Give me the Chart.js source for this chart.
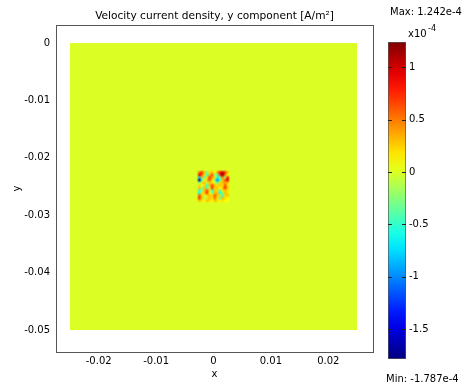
<!DOCTYPE html>
<html>
<head>
<meta charset="utf-8">
<script src="https://cdn.jsdelivr.net/npm/chart.js@4.4.1/dist/chart.umd.min.js"></script>
<style>
  html, body { margin: 0; padding: 0; background: #fff; }
  #wrap { position: relative; width: 471px; height: 388px; }
  #plot { position: absolute; left: 0; top: 0; }
  #cbar { position: absolute; left: 380px; top: 0; }
</style>
</head>
<body>
<div id="wrap">
  <canvas id="plot" width="471" height="388"></canvas>
  <canvas id="cbar" width="91" height="388"></canvas>
</div>
<script>
// Data Definitions
const xTicks = [-0.02, -0.01, 0, 0.01, 0.02];
const yTicks = [0, -0.01, -0.02, -0.03, -0.04, -0.05];
const colorTicks = [1, 0.5, 0, -0.5, -1, -1.5];

// value range (units of 1e-4 A/m^2)
const valueMin = -1.787;
const valueMax = 1.242;

// simulation domain, almost everywhere ~0
const domainX = [-0.025, 0.025];
const domainY = [-0.05, 0];
const backgroundValue = 0;

// small noisy patch near the centre, rows from top to bottom
const patchX = [-0.0027, 0.0027];
const patchY = [-0.0277, -0.0223];
const patchValues = [
    [0.5, 0.7, 0.3, -0.3, 0.2, 0.3, 0.1, 0.4, 0.8, 1.0, 0.7, 0.3],
    [0.9, 0.6, 0.2, -0.5, 0.3, 0.6, -0.2, -0.4, 0.7, 1.242, 0.5, 0.1],
    [-0.8, 0.3, -0.4, 0.2, 0.7, 0.4, 0.2, -0.6, -0.3, 0.5, -0.2, 0.8],
    [-1.787, -0.5, 0.1, 0.3, 0.6, 0.2, -0.3, -1.0, -0.5, 0.3, 0.6, 0.9],
    [-0.3, 0.2, 0.3, -0.1, 0.3, 0.2, 0.0, -0.4, 0.2, 0.3, 0.4, 0.3],
    [0.2, 0.0, 0.2, -0.5, 0.3, 0.6, 0.3, 0.2, 0.3, 0.2, 0.6, 0.2],
    [0.3, -0.2, 0.3, -0.4, 0.2, 0.7, 0.2, 0.3, 0.1, 0.3, 0.7, 0.3],
    [-0.5, -0.3, 0.3, 0.6, 0.2, -0.5, 0.3, 0.2, -0.4, 0.2, 0.3, 0.2],
    [-0.6, 0.2, 0.3, 0.7, 0.1, -0.3, 0.3, 0.3, -0.6, -0.2, 0.3, 0.2],
    [0.6, 0.3, 0.0, 0.2, 0.3, 0.2, 0.6, 0.3, 0.2, -0.5, 0.2, 0.3],
    [0.7, 0.3, -0.2, 0.2, 0.3, 0.2, 0.5, 0.2, -0.4, 0.3, 0.2, 0.1],
    [0.3, 0.2, 0.1, 0.3, 0.2, 0.1, 0.3, 0.2, 0.1, 0.2, 0.1, 0.1]
];

const titleText = 'Velocity current density, y component [A/m\u00B2]';
const maxText = 'Max: 1.242e-4';
const minText = 'Min: -1.787e-4';

const FONT = 'DejaVu Sans';

// jet colormap
function clamp01(v) { return Math.max(0, Math.min(1, v)); }
function jet(v) {
    const t = clamp01((v - valueMin) / (valueMax - valueMin));
    const r = clamp01(Math.min(4 * t - 1.5, -4 * t + 4.5));
    const g = clamp01(Math.min(4 * t - 0.5, -4 * t + 3.5));
    const b = clamp01(Math.min(4 * t + 0.5, -4 * t + 2.5));
    return [Math.round(r * 255), Math.round(g * 255), Math.round(b * 255)];
}
function jetCss(v) {
    const c = jet(v);
    return 'rgb(' + c[0] + ',' + c[1] + ',' + c[2] + ')';
}

// Surface plugin: paints the field through the chart scales
const surfacePlugin = {
    id: 'surface',
    beforeDatasetsDraw(chart) {
        const { ctx, scales: { x, y } } = chart;
        ctx.save();
        // background field
        const x0 = x.getPixelForValue(domainX[0]);
        const x1 = x.getPixelForValue(domainX[1]);
        const y0 = y.getPixelForValue(domainY[1]);
        const y1 = y.getPixelForValue(domainY[0]);
        ctx.fillStyle = jetCss(backgroundValue);
        ctx.fillRect(x0, y0, x1 - x0, y1 - y0);

        // patch as a small image (with a ring of background cells), smoothed
        const rows = patchValues.length;
        const cols = patchValues[0].length;
        const off = document.createElement('canvas');
        off.width = cols + 2;
        off.height = rows + 2;
        const octx = off.getContext('2d');
        const img = octx.createImageData(cols + 2, rows + 2);
        for (let r = 0; r < rows + 2; r++) {
            for (let c = 0; c < cols + 2; c++) {
                const inside = r > 0 && c > 0 && r <= rows && c <= cols;
                const col = jet(inside ? patchValues[r - 1][c - 1] : backgroundValue);
                const i = (r * (cols + 2) + c) * 4;
                img.data[i] = col[0];
                img.data[i + 1] = col[1];
                img.data[i + 2] = col[2];
                img.data[i + 3] = 255;
            }
        }
        octx.putImageData(img, 0, 0);
        const cw = (patchX[1] - patchX[0]) / cols;
        const ch = (patchY[1] - patchY[0]) / rows;
        const px0 = x.getPixelForValue(patchX[0] - cw);
        const px1 = x.getPixelForValue(patchX[1] + cw);
        const py0 = y.getPixelForValue(patchY[1] + ch);
        const py1 = y.getPixelForValue(patchY[0] - ch);
        ctx.imageSmoothingEnabled = true;
        ctx.imageSmoothingQuality = 'high';
        ctx.drawImage(off, px0, py0, px1 - px0, py1 - py0);

        ctx.restore();
    },
    afterDraw(chart) {
        // frame round the plot area
        const { ctx, chartArea: a } = chart;
        ctx.save();
        ctx.strokeStyle = '#555';
        ctx.lineWidth = 1;
        ctx.strokeRect(Math.round(a.left) + 0.5, Math.round(a.top) + 0.5,
            Math.round(a.right - a.left), Math.round(a.bottom - a.top));
        ctx.restore();
    }
};

new Chart(document.getElementById('plot').getContext('2d'), {
    type: 'scatter',
    data: { datasets: [] },
    options: {
        responsive: false,
        animation: false,
        layout: { padding: { left: 0, right: 98, top: 0, bottom: 0 } },
        scales: {
            x: {
                type: 'linear',
                min: -0.02744,
                max: 0.02779,
                afterBuildTicks: s => { s.ticks = xTicks.map(v => ({ value: v })); },
                afterFit: s => { s.height = 36; },
                grid: { display: false, drawTicks: false },
                border: { display: false },
                ticks: {
                    color: '#000',
                    padding: 3,
                    maxRotation: 0,
                    font: { family: FONT, size: 10 },
                    callback: v => String(v)
                },
                title: {
                    display: true,
                    text: 'x',
                    color: '#000',
                    font: { family: FONT, size: 10 },
                    padding: { top: 0, bottom: 8 }
                }
            },
            y: {
                type: 'linear',
                min: -0.05383,
                max: 0.00314,
                afterBuildTicks: s => { s.ticks = yTicks.map(v => ({ value: v })); },
                afterFit: s => { s.width = 56; },
                grid: { display: false, drawTicks: false },
                border: { display: false },
                ticks: {
                    color: '#000',
                    padding: 6,
                    font: { family: FONT, size: 10 },
                    callback: v => String(v)
                },
                title: {
                    display: true,
                    text: 'y',
                    color: '#000',
                    font: { family: FONT, size: 10 },
                    padding: { top: 11, bottom: 0 }
                }
            }
        },
        plugins: {
            legend: { display: false },
            tooltip: { enabled: false },
            title: {
                display: true,
                text: titleText,
                fullSize: false,
                color: '#000',
                font: { family: FONT, size: 10.6, weight: 'normal', lineHeight: 1.2 },
                padding: { top: 10, bottom: 2.3 }
            }
        }
    },
    plugins: [surfacePlugin]
});

// Colour bar
const colorbarPlugin = {
    id: 'colorbarMarks',
    afterDatasetsDraw(chart) {
        const { ctx, chartArea: a, scales: { y } } = chart;
        ctx.save();
        ctx.strokeStyle = '#222';
        ctx.lineWidth = 1;
        colorTicks.forEach(v => {
            const py = Math.round(y.getPixelForValue(v)) + 0.5;
            ctx.beginPath();
            ctx.moveTo(a.left, py);
            ctx.lineTo(a.left + 4, py);
            ctx.moveTo(a.right - 4, py);
            ctx.lineTo(a.right, py);
            ctx.stroke();
        });
        ctx.fillStyle = '#000';
        ctx.font = '10px "' + FONT + '"';
        ctx.textBaseline = 'middle';
        ctx.textAlign = 'left';
        ctx.fillText(maxText, 10, 12);
        ctx.fillText(minText, 6, 379);
        ctx.fillText('x10', 28, 34);
        ctx.font = '8px "' + FONT + '"';
        ctx.fillText('-4', 48, 29);
        ctx.restore();
    }
};

new Chart(document.getElementById('cbar').getContext('2d'), {
    type: 'bar',
    data: {
        labels: ['v'],
        datasets: [{
            data: [[valueMin, valueMax]],
            barPercentage: 1,
            categoryPercentage: 1,
            borderWidth: 1,
            borderColor: '#555',
            borderSkipped: false,
            backgroundColor: ctx => {
                const a = ctx.chart.chartArea;
                if (!a) return jetCss(0);
                const g = ctx.chart.ctx.createLinearGradient(0, a.bottom, 0, a.top);
                for (let i = 0; i <= 20; i++) {
                    const t = i / 20;
                    g.addColorStop(t, jetCss(valueMin + t * (valueMax - valueMin)));
                }
                return g;
            }
        }]
    },
    options: {
        responsive: false,
        animation: false,
        layout: { padding: { left: 8, right: 0, top: 42, bottom: 29 } },
        scales: {
            x: { display: false },
            y: {
                type: 'linear',
                position: 'right',
                min: valueMin,
                max: valueMax,
                afterBuildTicks: s => { s.ticks = colorTicks.map(v => ({ value: v })); },
                afterFit: s => { s.width = 65; },
                grid: { display: false, drawTicks: false },
                border: { display: false },
                ticks: {
                    color: '#000',
                    padding: 3,
                    font: { family: FONT, size: 10 },
                    callback: v => String(v)
                }
            }
        },
        plugins: {
            legend: { display: false },
            tooltip: { enabled: false }
        }
    },
    plugins: [colorbarPlugin]
});
</script>
</body>
</html>
